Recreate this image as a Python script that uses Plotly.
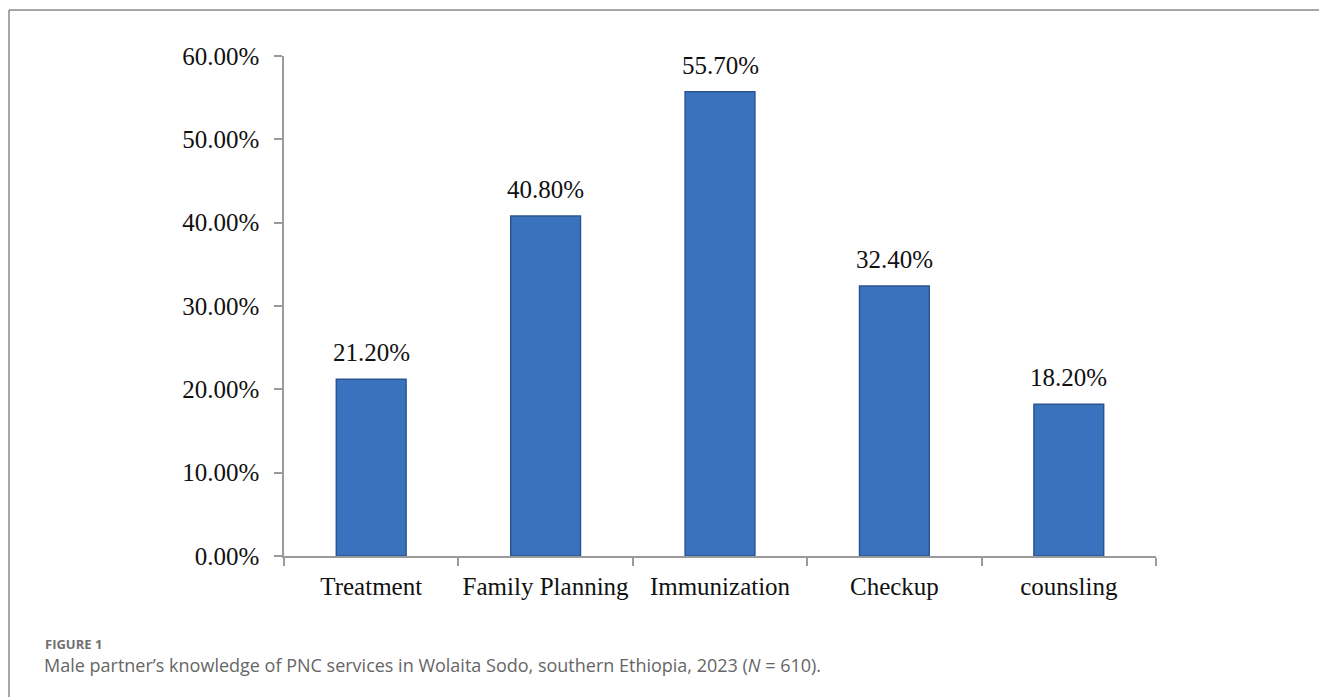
import plotly.graph_objects as go

categories = ["Treatment", "Family Planning", "Immunization", "Checkup", "counsling"]
values = [21.2, 40.8, 55.7, 32.4, 18.2]
labels = ["21.20%", "40.80%", "55.70%", "32.40%", "18.20%"]
ytick_vals = [0, 10, 20, 30, 40, 50, 60]
ytick_text = ["0.00%", "10.00%", "20.00%", "30.00%", "40.00%", "50.00%", "60.00%"]

W, H = 1319, 697
L, R, T, B = 284, 1156, 56, 556

def px_x(x):
    return (x - L) / (R - L)

def px_y(y):
    return (B - y) / (B - T)

serif = "Liberation Serif, Times New Roman, serif"

fig = go.Figure()
fig.add_trace(go.Bar(
    x=categories, y=values,
    width=0.4,
    marker=dict(color="#3a72bd", line=dict(color="#2a5593", width=1.5)),
    hoverinfo="x+y",
))

annotations = [
    dict(x=c, y=v, xref="x", yref="y", text=t, showarrow=False,
         xanchor="center", yanchor="bottom", yshift=11,
         font=dict(family=serif, size=25, color="#111111"))
    for c, v, t in zip(categories, values, labels)
]
annotations += [
    dict(xref="paper", yref="paper", x=px_x(43), y=px_y(644),
         xanchor="left", yanchor="middle", showarrow=False,
         text="<b>FIGURE 1</b>",
         font=dict(family="Open Sans, sans-serif", size=13, color="#707070")),
    dict(xref="paper", yref="paper", x=px_x(42), y=px_y(665),
         xanchor="left", yanchor="middle", showarrow=False,
         text="Male partner\u2019s knowledge of PNC services in Wolaita Sodo, southern Ethiopia, 2023 (<i>N</i> = 610).",
         font=dict(family="Open Sans, sans-serif", size=18, color="#666666")),
]

fig.update_layout(
    width=W, height=H,
    margin=dict(l=L, r=W - R, t=T, b=H - B),
    paper_bgcolor="white", plot_bgcolor="white",
    showlegend=False,
    xaxis=dict(
        showline=True, linecolor="#9a9a9a", linewidth=1.5,
        ticks="outside", ticklen=8, tickcolor="#9a9a9a", tickwidth=1.5,
        tickson="boundaries", showgrid=False, zeroline=False,
        tickangle=0, ticklabelstandoff=7,
        tickfont=dict(family=serif, size=25, color="#111111"),
        range=[-0.5, 4.5],
    ),
    yaxis=dict(
        range=[0, 60], tickvals=ytick_vals, ticktext=ytick_text,
        showline=True, linecolor="#9a9a9a", linewidth=1.5,
        ticks="outside", ticklen=8, tickcolor="#9a9a9a", tickwidth=1.5,
        ticklabelstandoff=10,
        showgrid=False, zeroline=False,
        tickfont=dict(family=serif, size=25, color="#111111"),
    ),
    shapes=[
        dict(type="line", xref="paper", yref="paper",
             x0=px_x(9), x1=px_x(1319), y0=px_y(10), y1=px_y(10),
             line=dict(color="#8a8a8a", width=1.5)),
        dict(type="line", xref="paper", yref="paper",
             x0=px_x(9), x1=px_x(9), y0=px_y(10), y1=px_y(697),
             line=dict(color="#8a8a8a", width=1.5)),
    ],
    annotations=annotations,
)

fig.write_html("out.html")
